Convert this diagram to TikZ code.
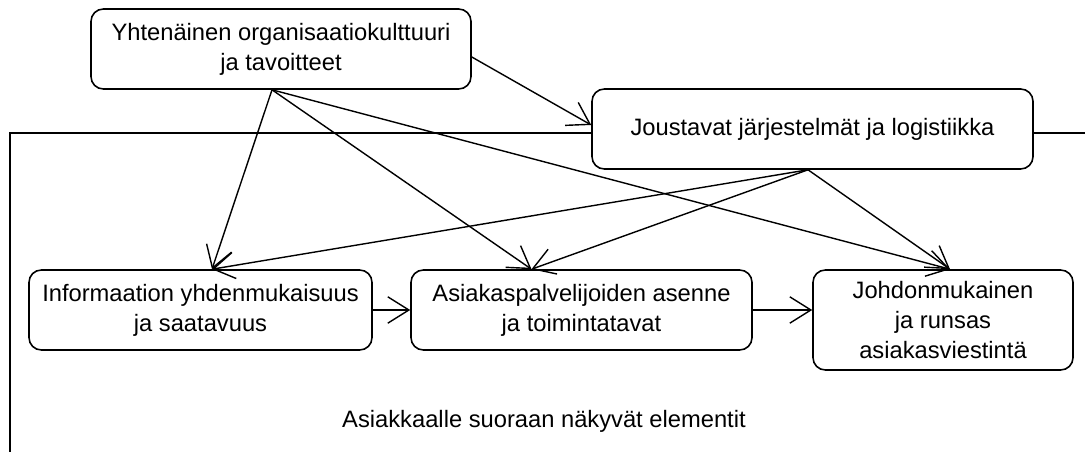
\documentclass[tikz,border=0pt]{standalone}
\usepackage{fontspec}
\setmainfont{Liberation Sans}
\usetikzlibrary{positioning, arrows.meta, calc}

\begin{document}
\begin{tikzpicture}[
  elem/.style={draw, fill=white, rounded corners=7pt, line width=0.9pt,
               align=center, inner sep=2pt,
               font=\fontsize{13.5}{17}\selectfont},
  arr/.style={-{Straight Barb[length=12pt, width=15pt]}, line width=0.8pt},
  lbl/.style={font=\fontsize{13.5}{17}\selectfont}
]
  \useasboundingbox (0,0) rectangle (21.7,-9.04);
  %% Outer frame (the logistics box sits on its top edge)
  \draw[line width=0.9pt] (0.2,-9.2) |- (21.9,-2.66);

  %% Boxes
  \node[elem, minimum width=7.6cm, minimum height=1.6cm]  (culture) at (5.62,-0.98)  {Yhtenäinen organisaatiokulttuuri\\ja tavoitteet};
  \node[elem, minimum width=8.82cm, minimum height=1.6cm] (systems) at (16.25,-2.58) {Joustavat järjestelmät ja logistiikka};
  \node[elem, minimum width=6.86cm, minimum height=1.6cm] (info)    at (4.01,-6.2)   {Informaation yhdenmukaisuus\\ja saatavuus};
  \node[elem, minimum width=6.82cm, minimum height=1.6cm] (staff)   at (11.63,-6.2)  {Asiakaspalvelijoiden asenne\\ja toimintatavat};
  \node[elem, minimum width=5.2cm, minimum height=2.0cm]  (comm)    at (18.86,-6.4)  {Johdonmukainen\\ja runsas\\asiakasviestintä};
  \node[lbl] (visible) at (10.88,-8.42) {Asiakkaalle suoraan näkyvät elementit};

  %% Fixed connection points
  \coordinate (cultOut) at ($(culture.south)+(-0.18,0)$);
  \coordinate (sysOut)  at ($(systems.south)+(-0.09,0)$);
  \coordinate (infoIn)  at ($(info.north)+(0.23,0)$);
  \coordinate (staffIn) at ($(staff.north)+(-1.0,0)$);
  \coordinate (commIn)  at ($(comm.north)+(0.14,0)$);

  %% Culture -> everything
  \draw[arr] ($(culture.east)+(0,-0.16)$) -- ($(systems.west)+(0,0.08)$);
  \draw[arr] (cultOut) -- (infoIn);
  \draw[arr] (cultOut) -- (staffIn);
  \draw[arr] (cultOut) -- (commIn);
  %% Systems -> bottom row
  \draw[arr] (sysOut) -- (infoIn);
  \draw[arr] (sysOut) -- (staffIn);
  \draw[arr] (sysOut) -- (commIn);
  %% Bottom row chain
  \draw[arr] (info) -- (staff);
  \draw[arr] (staff.east) -- (staff.east -| comm.west);
\end{tikzpicture}
\end{document}
